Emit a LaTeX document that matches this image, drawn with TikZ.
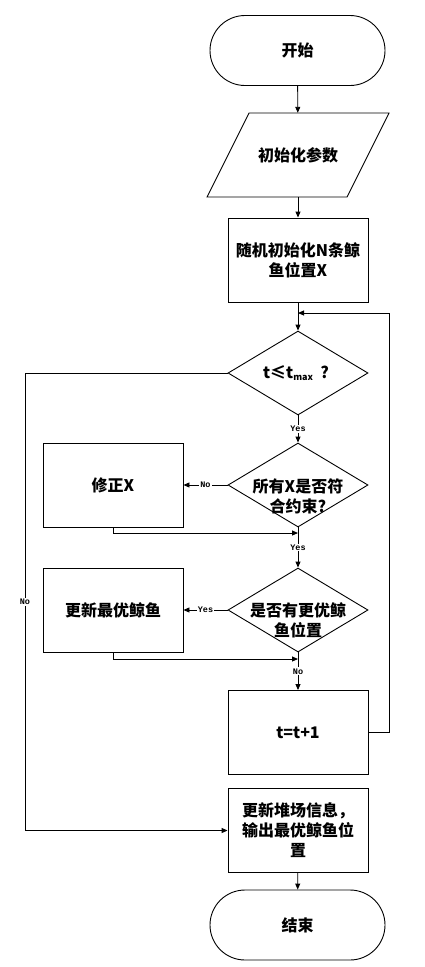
\documentclass[tikz,border=0pt]{standalone}
\usepackage{fontspec}
\setmainfont{Noto Sans CJK SC}
\newfontfamily\lblfont{Liberation Mono}
\usetikzlibrary{shapes.geometric,arrows.meta}
\begin{document}
\begin{tikzpicture}[x=1pt,y=-1pt,
  every node/.style={font=\fontsize{16}{20}\selectfont\bfseries, align=center},
  ln/.style={line width=0.9pt},
  arr/.style={ln,-{Triangle[length=6pt,width=5pt]}},
  term/.style={draw, ln, rectangle, rounded corners=35pt, minimum width=175pt, minimum height=70pt, inner sep=0pt},
  box/.style={draw, ln, rectangle, minimum width=140pt, minimum height=84pt, inner sep=0pt},
  dia/.style={draw, ln, diamond, minimum width=140pt, minimum height=84pt, inner sep=0pt},
  lbl/.style={font=\lblfont\fontsize{8.5}{9}\selectfont\bfseries, fill=white, inner sep=1pt}
]
\fill[white] (0,0) rectangle (424,967);
\useasboundingbox (0,0) rectangle (424,967);

% start
\node[term] (start) at (297.5,50.5) {开始};
% parallelogram
\node[minimum width=182pt, minimum height=84pt, inner sep=0pt] (init) at (298,155) {初始化参数};
\draw[ln] (249,113) -- (389,113) -- (347,197) -- (207,197) -- cycle;
% random init
\node[box] (rnd) at (298,260) {随机初始化N条鲸\\鱼位置X};
% decision 1
\node[dia] (d1) at (298,373) {};
\node (d1t) at (296,373) {t≤t\raisebox{-2pt}{\fontsize{9}{9}\selectfont max}\ \ ?};
% decision 2
\node[dia] (d2) at (298,485) {};
\node (d2t) at (298,496) {所有X是否符\\合约束?};
\node[box] (fix) at (113,485) {修正X};
% decision 3
\node[dia] (d3) at (298,610) {};
\node (d3t) at (298,620) {是否有更优鲸\\鱼位置};
\node[box] (upd) at (113,610) {更新最优鲸鱼};
% t=t+1
\node[box] (inc) at (298,732.5) {t=t+1};
% output
\node[box] (out) at (298,830.5) {更新堆场信息，\\输出最优鲸鱼位\\置};
% end
\node[term] (end) at (297.5,925) {结束};

% helper coordinates
\coordinate (lp) at (389,313);
\coordinate (lj) at (298,313);
\coordinate (j1) at (298,533);
\coordinate (j2) at (298,659);
\coordinate (nx) at (25,0);

% connectors
\draw[arr] (start) -- (init);
\draw[arr] (init) -- (rnd);
\draw[arr] (rnd) -- (d1);
\draw[arr] (inc.east) -- (inc.east -| lp) -- (lp) -- (lj);
\draw[arr] (d1) -- node[lbl] {Yes} (d2);
\draw[arr] (d2) -- node[lbl] {No} (fix);
\draw[arr] (fix.south) |- (j1);
\draw[arr] (d2) -- node[lbl] {Yes} (d3);
\draw[arr] (d3) -- node[lbl] {Yes} (upd);
\draw[arr] (upd.south) |- (j2);
\draw[arr] (d3) -- node[lbl] {No} (inc);
\draw[arr] (d1.west) -- (d1.west -| nx) |- (out.west);
\node[lbl] (nolbl) at (25,602) {No};
\draw[arr] (out) -- (end);
\end{tikzpicture}
\end{document}
